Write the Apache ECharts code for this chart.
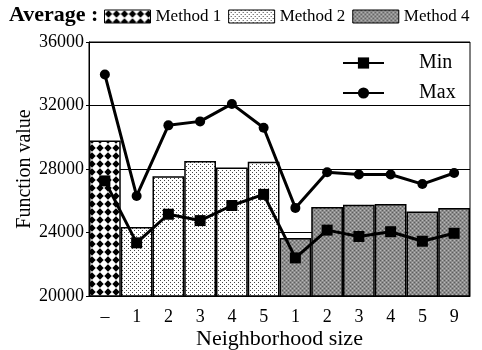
<!DOCTYPE html>
<html><head><meta charset="utf-8">
<script src="https://cdn.jsdelivr.net/npm/echarts@6/dist/echarts.min.js"></script>
<style>html,body{margin:0;padding:0;background:#fff}#c{width:482px;height:350px}</style>
</head><body><div id="c"></div>
<script>
const categories = ['–','1','2','3','4','5','1','2','3','4','5','9'];
const method1 = [29800,'-','-','-','-','-','-','-','-','-','-','-'];
const method2 = ['-',24350,27550,28500,28100,28450,'-','-','-','-','-','-'];
const method4 = ['-','-','-','-','-','-',23650,25600,25750,25800,25330,25540];
const minVals = [27250,23350,25150,24750,25700,26400,22400,24150,23750,24050,23450,23950];
const maxVals = [33950,26300,30750,31000,32100,30600,25550,27800,27650,27650,27050,27750];
const yTicks = {min:20000, max:36000, interval:4000};

function tile(w,h,draw){const c=document.createElement('canvas');c.width=w;c.height=h;const g=c.getContext('2d');g.fillStyle='#fff';g.fillRect(0,0,w,h);draw(g);return c;}
const diamondTile = tile(8,8,g=>{g.fillStyle='#000';g.beginPath();g.moveTo(4,0.3);g.lineTo(7.7,4);g.lineTo(4,7.7);g.lineTo(0.3,4);g.closePath();g.fill();});
const dotTile = tile(4,4,g=>{g.fillStyle='#444';g.fillRect(0,0,1,1);g.fillRect(2,2,1,1);});
const grayTile = tile(4,4,g=>{g.fillStyle='#8c8c8c';g.fillRect(0,0,4,4);g.fillStyle='#5e5e5e';g.fillRect(0,0,1,1);g.fillRect(2,2,1,1);g.fillStyle='#b8b8b8';g.fillRect(2,0,1,1);g.fillRect(0,2,1,1);});

const F = 'Liberation Serif';
const chart = echarts.init(document.getElementById('c'), null, {renderer:'canvas'});
const barBase = {type:'bar', barGap:'-100%', barCategoryGap:'0%', z:2};
chart.setOption({
  animation:false,
  title:{text:'Average :', left:9, top:4, padding:0, textStyle:{fontFamily:F, fontWeight:'bold', fontSize:22, color:'#000'}},
  legend:[{
    data:['Method 1','Method 2','Method 4'], left:104, top:8, padding:0, icon:'rect', itemWidth:46, itemHeight:13, itemGap:7,
    textStyle:{fontFamily:F, fontSize:17, color:'#000'}, itemStyle:{borderColor:'#000', borderWidth:1}
  },{
    data:['Min','Max'], orient:'vertical', left:342, top:53, padding:0, itemWidth:41, itemHeight:14, itemGap:10,
    textStyle:{fontFamily:F, fontSize:20, color:'#000', padding:[0,0,0,30]}
  }],
  grid:{left:89, right:12, top:42, bottom:54, show:true, borderColor:'#000', borderWidth:1, containLabel:false, outerBoundsMode:'none'},
  xAxis:{type:'category', data:categories, axisTick:{show:false},
    axisLine:{lineStyle:{color:'#000', width:1}},
    axisLabel:{fontFamily:F, fontSize:18, color:'#000', margin:12},
    name:'Neighborhood size', nameLocation:'middle', nameGap:32, nameMoveOverlap:false,
    nameTextStyle:{fontFamily:F, fontSize:22, color:'#000'}},
  yAxis:{type:'value', min:yTicks.min, max:yTicks.max, interval:yTicks.interval,
    axisLine:{show:true, lineStyle:{color:'#000'}}, axisTick:{show:true, length:3, lineStyle:{color:'#000'}},
    splitLine:{lineStyle:{color:'#000', width:1}},
    axisLabel:{fontFamily:F, fontSize:18, color:'#000', margin:5, formatter:v=>String(v)},
    name:'Function value', nameLocation:'middle', nameGap:54, nameMoveOverlap:false,
    nameTextStyle:{fontFamily:F, fontSize:20, color:'#000'}},
  series:[
    Object.assign({name:'Method 1', data:method1, itemStyle:{color:{image:diamondTile, repeat:'repeat'}, borderColor:'#000', borderWidth:1.5}}, barBase),
    Object.assign({name:'Method 2', data:method2, itemStyle:{color:{image:dotTile, repeat:'repeat'}, borderColor:'#000', borderWidth:1.5}}, barBase),
    Object.assign({name:'Method 4', data:method4, itemStyle:{color:{image:grayTile, repeat:'repeat'}, borderColor:'#000', borderWidth:1.5}}, barBase),
    {name:'Min', type:'line', data:minVals, symbol:'rect', symbolSize:11, z:5,
      lineStyle:{color:'#000', width:3}, itemStyle:{color:'#000'}},
    {name:'Max', type:'line', data:maxVals, symbol:'circle', symbolSize:10, z:5,
      lineStyle:{color:'#000', width:3}, itemStyle:{color:'#000'}}
  ]
});
</script></body></html>
